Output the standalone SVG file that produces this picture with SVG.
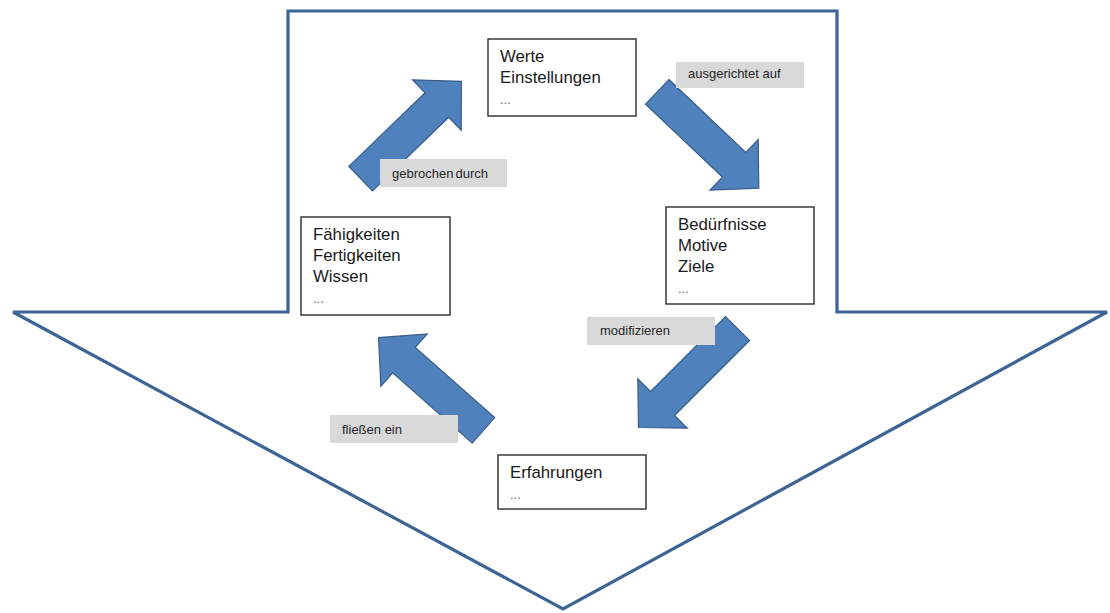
<svg xmlns="http://www.w3.org/2000/svg" width="1110" height="613" viewBox="0 0 1110 613">
  <defs>
    <style>
      .frame { fill: #ffffff; stroke: #3D6496; stroke-width: 3.2; stroke-linejoin: miter; }
      .cycle { fill: #4F81BD; stroke: #385D8A; stroke-width: 1.2; stroke-linejoin: miter; }
      .box { fill: #ffffff; stroke: #3a3a3a; stroke-width: 1.5; }
      .txt { font-family: "Liberation Sans", Arial, sans-serif; font-size: 16.8px; fill: #1a1a1a; }
      .dots { font-family: "Liberation Sans", Arial, sans-serif; font-size: 13px; fill: #6b6b6b; }
      .tag { fill: #D9D9D9; }
      .tagtxt { font-family: "Liberation Sans", Arial, sans-serif; font-size: 13px; fill: #262626; }
    </style>
    <!-- block arrow pointing right, centred on the origin -->
    <polygon id="blockArrow" points="-70,-17 36,-17 36,-35 70,0 36,35 36,17 -70,17"/>
  </defs>

  <!-- large downward arrow outline -->
  <polygon class="frame" points="288,11 837,11 837,312 1107,312 563,609 13,312 288,312"/>

  <!-- connectors: block arrows of the cycle -->
  <g id="connectors">
    <use href="#blockArrow" class="cycle" transform="translate(411,130) rotate(-44)"/>
    <use href="#blockArrow" class="cycle" transform="translate(708,140) rotate(43.5)"/>
    <use href="#blockArrow" class="cycle" transform="translate(688,378) rotate(135)"/>
    <use href="#blockArrow" class="cycle" transform="translate(431,384) rotate(221.5)"/>
  </g>

  <!-- edge labels -->
  <g id="label-ausgerichtet">
    <rect class="tag" x="676" y="62" width="128" height="26"/>
    <text class="tagtxt" x="688" y="78">ausgerichtet auf</text>
  </g>
  <g id="label-gebrochen">
    <rect class="tag" x="380" y="159" width="127" height="28"/>
    <text class="tagtxt" x="392" y="178" word-spacing="-1.5">gebrochen durch</text>
  </g>
  <g id="label-modifizieren">
    <rect class="tag" x="587" y="317" width="128" height="28"/>
    <text class="tagtxt" x="600" y="335">modifizieren</text>
  </g>
  <g id="label-fliessen">
    <rect class="tag" x="330" y="415" width="128" height="28"/>
    <text class="tagtxt" x="342" y="434">fließen ein</text>
  </g>

  <!-- nodes -->
  <g id="node-werte">
    <rect class="box" x="488" y="39" width="148" height="77"/>
    <text class="txt" x="500" y="62">Werte</text>
    <text class="txt" x="500" y="83">Einstellungen</text>
    <text class="dots" x="500" y="104">...</text>
  </g>
  <g id="node-beduerfnisse">
    <rect class="box" x="666" y="207" width="148" height="97"/>
    <text class="txt" x="678" y="230">Bedürfnisse</text>
    <text class="txt" x="678" y="251">Motive</text>
    <text class="txt" x="678" y="272">Ziele</text>
    <text class="dots" x="678" y="293">...</text>
  </g>
  <g id="node-faehigkeiten">
    <rect class="box" x="301" y="217" width="149" height="98"/>
    <text class="txt" x="313" y="240">Fähigkeiten</text>
    <text class="txt" x="313" y="261">Fertigkeiten</text>
    <text class="txt" x="313" y="282">Wissen</text>
    <text class="dots" x="313" y="303">...</text>
  </g>
  <g id="node-erfahrungen">
    <rect class="box" x="498" y="455" width="148" height="54"/>
    <text class="txt" x="510" y="478">Erfahrungen</text>
    <text class="dots" x="510" y="499">...</text>
  </g>
</svg>
